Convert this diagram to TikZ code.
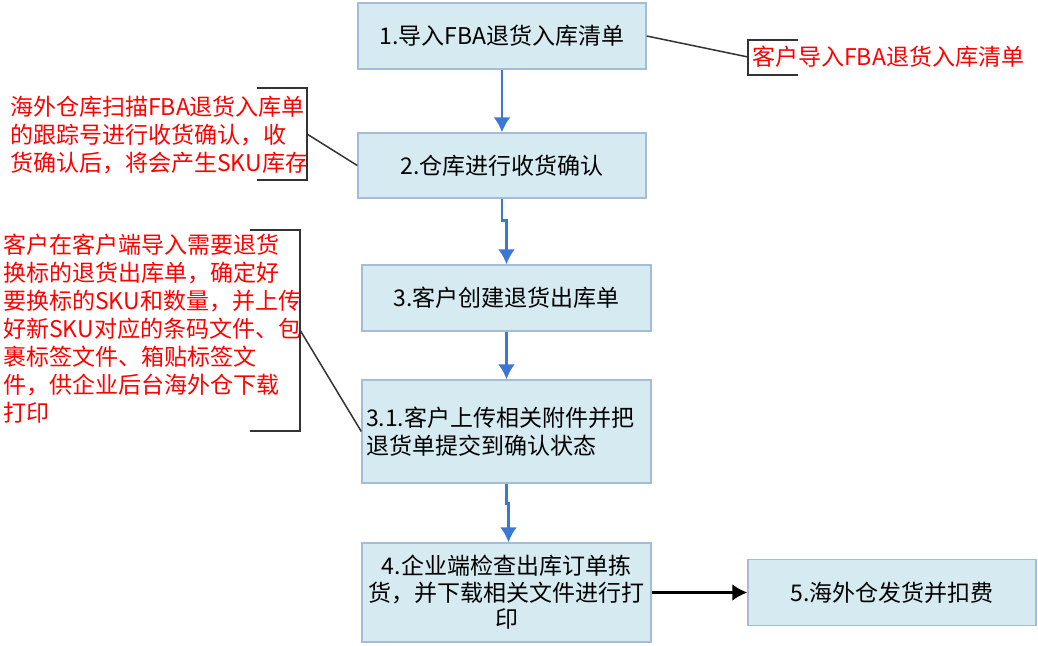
\documentclass[tikz,border=0pt]{standalone}
\usepackage{fontspec}
\usepackage{tikz}
\usepackage{xcolor}
\usetikzlibrary{arrows.meta}
\newfontfamily\cjk{Noto Sans CJK SC}
\definecolor{boxfill}{HTML}{D5EBF1}
\definecolor{boxline}{HTML}{A4BCD6}
\definecolor{flowblue}{HTML}{3A78D4}
\tikzset{stepbox/.style={rectangle, draw=boxline, fill=boxfill, line width=1.4pt, inner sep=0pt, align=center, font=\cjk\fontsize{23}{28}\selectfont}}
\tikzset{note/.style={anchor=west, inner sep=0pt, align=left, text=red, font=\cjk\fontsize{23}{28}\selectfont}}
\tikzset{arrow/.style={->, >={Latex[length=15pt, width=17pt]}, line width=2.6pt}}
\tikzset{link/.style={draw=black!80, line width=1.5pt}}

\begin{document}
\begin{tikzpicture}[x=1pt, y=-1pt]
  \useasboundingbox (0,0) rectangle (1038,645);

  \node[stepbox, minimum width=288pt, minimum height=66pt] (s1) at (502,36) {1.导入FBA退货入库清单};
  \node[stepbox, minimum width=288pt, minimum height=65pt] (s2) at (502,165.5) {2.仓库进行收货确认};
  \node[stepbox, minimum width=289pt, minimum height=66pt] (s3) at (506.5,298) {3.客户创建退货出库单};
  \node[stepbox, minimum width=289pt, minimum height=103pt, text width=281pt, align=left] (s31) at (506.5,431.5) {3.1.客户上传相关附件并把\\退货单提交到确认状态};
  \node[stepbox, minimum width=289pt, minimum height=99pt, font=\cjk\fontsize{23}{26.5}\selectfont] (s4) at (506.5,592.5) {4.企业端检查出库订单拣\\货，并下载相关文件进行打\\印};
  \node[stepbox, minimum width=288pt, minimum height=66pt] (s5) at (892,592.5) {5.海外仓发货并扣费};

  \draw[arrow, flowblue] (s1) -- (s2);
  \draw[arrow, flowblue] (s2.south) -- ++(0,22) -| (s3.north);
  \draw[arrow, flowblue] (s3) -- (s31);
  \draw[arrow, flowblue] (s31.south) -- ++(0,20) -| ([xshift=2pt]s4.north);
  \draw[arrow, black] (s4) -- (s5);

  \node[note] (n1) at (752,57) {客户导入FBA退货入库清单};
  \node[note] (n2) at (10,135) {海外仓库扫描FBA退货入库单\\的跟踪号进行收货确认，收\\货确认后，将会产生SKU库存};
  \node[note] (n3) at (3,329) {客户在客户端导入需要退货\\换标的退货出库单，确定好\\要换标的SKU和数量，并上传\\好新SKU对应的条码文件、包\\裹标签文件、箱贴标签文\\件，供企业后台海外仓下载\\打印};

  \draw[link] (798,40) -- (748,40) -- (748,75) -- (798,75);
  \coordinate (n1tip) at (748,57);
  \draw[link] (s1.east) -- (n1tip);

  \draw[link] (257,88) -- (307,88) -- (307,180) -- (257,180);
  \coordinate (n2tip) at (307,134);
  \draw[link] (n2tip) -- (s2.west);

  \draw[link] (250,230) -- (300,230) -- (300,431) -- (250,431);
  \coordinate (n3tip) at (300,330);
  \draw[link] (n3tip) -- (s31.west);
\end{tikzpicture}
\end{document}
